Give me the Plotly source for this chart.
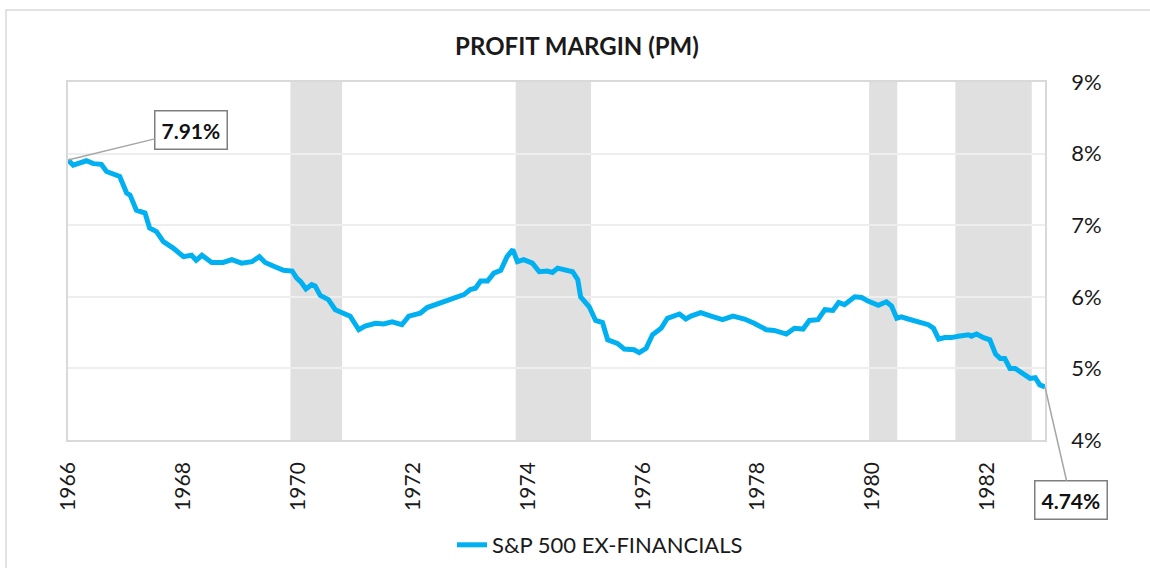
import plotly.graph_objects as go

# Data (decimal year, profit margin %)
years = [1966.00, 1966.09, 1966.32, 1966.44, 1966.58, 1966.67, 1966.90, 1967.02, 1967.08, 1967.19,
         1967.34, 1967.42, 1967.54, 1967.66, 1967.83, 1968.01, 1968.15, 1968.23, 1968.33, 1968.50,
         1968.70, 1968.85, 1969.02, 1969.20, 1969.33, 1969.43, 1969.57, 1969.75, 1969.90, 1969.98,
         1970.05, 1970.14, 1970.24, 1970.30, 1970.39, 1970.53, 1970.65, 1970.77, 1970.91, 1971.06,
         1971.17, 1971.35, 1971.49, 1971.64, 1971.81, 1971.93, 1972.13, 1972.25, 1972.42, 1972.60,
         1972.71, 1972.89, 1973.00, 1973.09, 1973.18, 1973.30, 1973.41, 1973.53, 1973.64, 1973.74,
         1973.82, 1973.93, 1974.08, 1974.20, 1974.34, 1974.43, 1974.52, 1974.69, 1974.78, 1974.87,
         1974.92, 1975.07, 1975.18, 1975.30, 1975.39, 1975.56, 1975.68, 1975.85, 1975.94, 1976.06,
         1976.17, 1976.32, 1976.43, 1976.64, 1976.75, 1976.84, 1977.01, 1977.19, 1977.39, 1977.57,
         1977.77, 1977.94, 1978.15, 1978.29, 1978.50, 1978.64, 1978.79, 1978.90, 1979.05, 1979.17,
         1979.31, 1979.41, 1979.51, 1979.69, 1979.81, 1979.92, 1980.10, 1980.24, 1980.33, 1980.42,
         1980.50, 1980.62, 1980.85, 1980.97, 1981.06, 1981.15, 1981.26, 1981.37, 1981.49, 1981.67,
         1981.72, 1981.81, 1981.93, 1982.04, 1982.14, 1982.22, 1982.30, 1982.39, 1982.48, 1982.62,
         1982.74, 1982.83, 1982.91, 1983.00]
margin = [7.91, 7.84, 7.90, 7.86, 7.85, 7.75, 7.68, 7.45, 7.42, 7.21,
          7.17, 6.96, 6.91, 6.77, 6.68, 6.56, 6.58, 6.51, 6.58, 6.48,
          6.48, 6.52, 6.47, 6.49, 6.56, 6.48, 6.43, 6.37, 6.36, 6.26,
          6.21, 6.11, 6.17, 6.15, 6.02, 5.96, 5.82, 5.78, 5.73, 5.54,
          5.59, 5.63, 5.62, 5.65, 5.61, 5.73, 5.77, 5.85, 5.90, 5.94,
          5.97, 6.03, 6.10, 6.12, 6.22, 6.22, 6.33, 6.37, 6.56, 6.66,
          6.49, 6.52, 6.47, 6.35, 6.36, 6.34, 6.40, 6.36, 6.35, 6.24,
          6.00, 5.86, 5.67, 5.64, 5.40, 5.35, 5.27, 5.26, 5.22, 5.28,
          5.47, 5.56, 5.70, 5.76, 5.69, 5.73, 5.78, 5.73, 5.68, 5.73,
          5.69, 5.63, 5.54, 5.53, 5.48, 5.56, 5.55, 5.67, 5.68, 5.82,
          5.81, 5.92, 5.89, 6.00, 5.99, 5.94, 5.88, 5.93, 5.87, 5.70,
          5.72, 5.69, 5.63, 5.61, 5.56, 5.41, 5.43, 5.43, 5.45, 5.47,
          5.45, 5.48, 5.43, 5.40, 5.20, 5.14, 5.14, 5.00, 5.00, 4.93,
          4.86, 4.87, 4.77, 4.74]

recession_start = [1969.87, 1973.79, 1979.94, 1981.44]
recession_end = [1970.77, 1975.10, 1980.43, 1982.77]

x_tick_vals = [1966, 1968, 1970, 1972, 1974, 1976, 1978, 1980, 1982]
x_tick_text = [str(v) for v in x_tick_vals]
y_tick_vals = [4, 5, 6, 7, 8, 9]
y_tick_text = ["4%", "5%", "6%", "7%", "8%", "9%"]

series_name = "S&P 500 EX-FINANCIALS"
title_text = "PROFIT MARGIN (PM)"

FONT = "Lato, 'Open Sans', sans-serif"
LINE_COLOR = "#00B0F0"

fig = go.Figure()

fig.add_trace(go.Scatter(
    x=years, y=margin, mode="lines", name=series_name,
    line=dict(color=LINE_COLOR, width=5),
    hoverinfo="skip",
))

shapes = []
for s, e in zip(recession_start, recession_end):
    shapes.append(dict(type="rect", xref="x", yref="paper", x0=s, x1=e, y0=0, y1=1,
                       fillcolor="#E0E0E0", line=dict(width=0), layer="below"))

# layout geometry (page pixels; body margin removed by post_script)
W, H = 1150, 568
L, R, T, B = 68, 105, 82, 128
pw, ph = W - L - R, H - T - B
def px(xp):
    return (xp - L) / pw
def py(yp):
    return (H - B - yp) / ph

# outer chart border
shapes.append(dict(type="rect", xref="paper", yref="paper",
                   x0=px(6), x1=px(1170), y0=py(10), y1=py(590),
                   line=dict(color="#D9D9D9", width=1.5), fillcolor="rgba(0,0,0,0)", layer="below"))

annotations = [
    dict(x=years[0], y=margin[0], xref="x", yref="y",
         text="<b>%.2f%%</b>" % margin[0], showarrow=True, arrowhead=0,
         arrowcolor="#A6A6A6", arrowwidth=1.5, ax=123, ay=-30,
         font=dict(family=FONT, size=21, color="#111111"),
         bgcolor="white", bordercolor="#7F7F7F", borderwidth=1.5, borderpad=6),
    dict(x=years[-1], y=margin[-1], xref="x", yref="y",
         text="<b>%.2f%%</b>" % margin[-1], showarrow=True, arrowhead=0,
         arrowcolor="#A6A6A6", arrowwidth=1.5, ax=26, ay=113,
         font=dict(family=FONT, size=21, color="#111111"),
         bgcolor="white", bordercolor="#7F7F7F", borderwidth=1.5, borderpad=6),
]

fig.update_layout(
    width=W, height=H,
    margin=dict(l=L, r=R, t=T, b=B, autoexpand=False),
    paper_bgcolor="white", plot_bgcolor="white",
    title=dict(text="<b>%s</b>" % title_text, x=px(577), xanchor="center",
               xref="paper", y=1 - 47 / H, yanchor="middle",
               font=dict(family=FONT, size=24, color="#1A1A1A")),
    font=dict(family=FONT, color="#1A1A1A"),
    showlegend=True,
    legend=dict(orientation="h", x=px(600), xanchor="center", y=py(545), yanchor="middle",
                font=dict(family=FONT, size=22, color="#1A1A1A"),
                bgcolor="rgba(0,0,0,0)"),
    shapes=shapes,
    annotations=annotations,
    xaxis=dict(range=[1966, 1983], tickvals=x_tick_vals, ticktext=x_tick_text,
               tickangle=-90, showgrid=False, zeroline=False,
               showline=True, linecolor="#D9D9D9", linewidth=1.5, mirror=True,
               ticks="", ticklabelstandoff=12,
               tickfont=dict(family=FONT, size=21, color="#1A1A1A")),
    yaxis=dict(range=[4, 9], tickvals=y_tick_vals, ticktext=y_tick_text, side="right",
               showgrid=True, gridcolor="#EEEEEE", gridwidth=1.5, zeroline=False,
               showline=True, linecolor="#D9D9D9", linewidth=1.5, mirror=True,
               ticks="", ticklabelstandoff=20,
               tickfont=dict(family=FONT, size=22, color="#1A1A1A")),
)

fig.write_html("out.html", config={"displayModeBar": False},
               post_script="document.body.style.margin='0';document.body.style.padding='0';document.body.style.overflow='hidden';")
